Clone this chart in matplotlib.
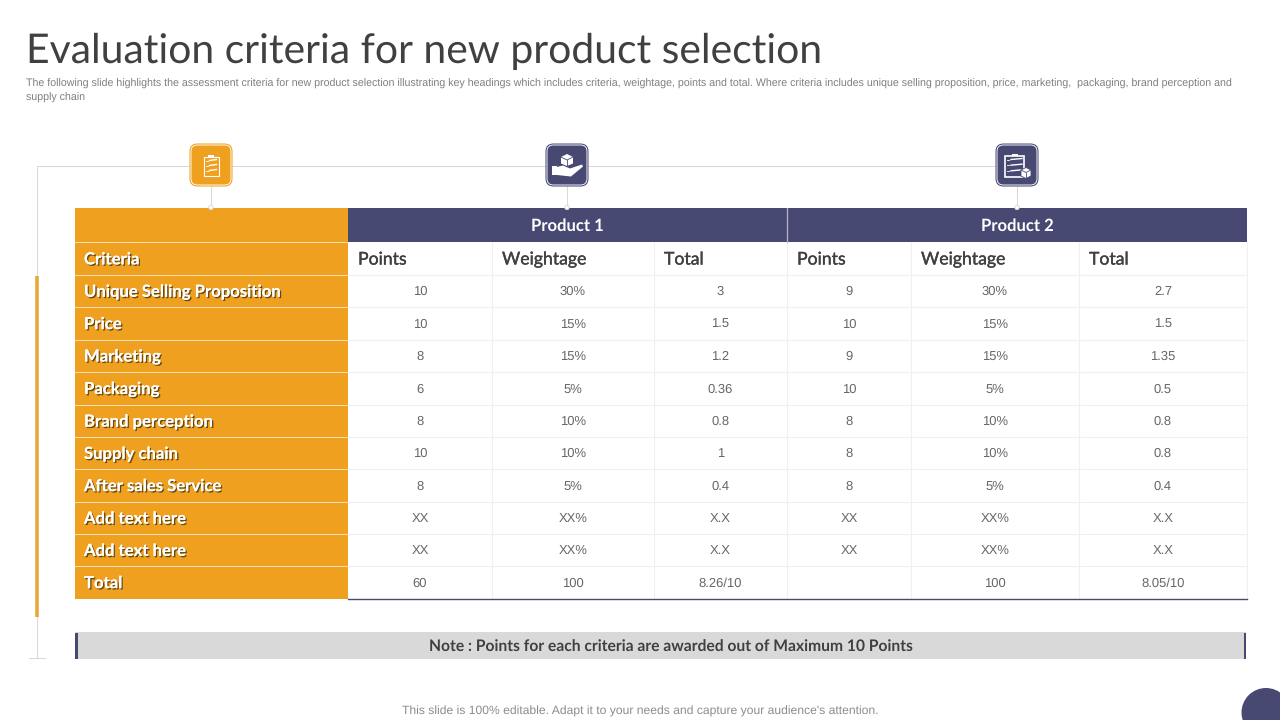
import matplotlib
matplotlib.use('Agg')
import matplotlib.pyplot as plt
import matplotlib.patheffects as pe
from matplotlib.patches import Rectangle, FancyBboxPatch, Circle, Polygon

plt.rcParams['text.hinting'] = 'no_hinting'

ORANGE = '#EFA01F'
NAVY = '#474973'
GRID = '#F0F0F0'
GREY_LINE = '#D9D9D9'
TXT = '#666666'

criteria = ['Criteria', 'Unique Selling Proposition', 'Price', 'Marketing', 'Packaging',
            'Brand perception', 'Supply chain', 'After sales Service', 'Add text here',
            'Add text here', 'Total']
col_heads = ['Points', 'Weightage', 'Total', 'Points', 'Weightage', 'Total']
products = ['Product 1', 'Product 2']

p1_points = ['10', '10', '8', '6', '8', '10', '8', 'XX', 'XX', '60']
p1_weight = ['30%', '15%', '15%', '5%', '10%', '10%', '5%', 'XX%', 'XX%', '100']
p1_total = ['3', '1.5', '1.2', '0.36', '0.8', '1', '0.4', 'X.X', 'X.X', '8.26/10']
p2_points = ['9', '10', '9', '10', '8', '8', '8', 'XX', 'XX', '']
p2_weight = ['30%', '15%', '15%', '5%', '10%', '10%', '5%', 'XX%', 'XX%', '100']
p2_total = ['2.7', '1.5', '1.35', '0.5', '0.8', '0.8', '0.4', 'X.X', 'X.X', '8.05/10']

title = 'Evaluation criteria for new product selection'
subtitle = ('The following slide highlights the assessment criteria for new product selection illustrating key headings which includes criteria, weightage, points and total. Where criteria includes unique selling proposition, price, marketing,  packaging, brand perception and\n'
            'supply chain')
note = 'Note : Points for each criteria are awarded out of Maximum 10 Points'
footer = "This slide is 100% editable. Adapt it to your needs and capture your audience's attention."

# table grid in pixels
col_x = [75, 348, 492, 654, 787, 911, 1079, 1247]
row_y = [208, 242, 275, 307, 339.5, 372, 404.5, 437, 469, 501.5, 534, 566, 598.5]

HEAD_FONT = 'Lato'
BODY_FONT = 'Liberation Sans'

fig = plt.figure(figsize=(12.8, 7.2), dpi=100)
ax = fig.add_axes([0, 0, 1, 1])
ax.set_xlim(0, 1280)
ax.set_ylim(720, 0)
ax.axis('off')

ax.text(26, 51, title, fontsize=29.4, family=HEAD_FONT, color='#404040', va='center')
ax.text(26, 91, subtitle, fontsize=7.7, family=BODY_FONT, color='#7F7F7F', va='center', linespacing=1.45)

# bracket line on the left and top
ax.plot([37, 37, 1017], [658, 166, 166], color=GREY_LINE, lw=0.75, zorder=1)
ax.plot([29, 45], [658, 658], color=GREY_LINE, lw=0.75, zorder=1)
ax.plot([37, 37], [276, 617], color='#E8A93A', lw=2.6, solid_capstyle='butt', zorder=2)

# orange first column
ax.add_patch(Rectangle((col_x[0], row_y[0]), col_x[1]-col_x[0], row_y[-1]-row_y[0], fc=ORANGE, ec='none', zorder=2))
for y in row_y[1:-1]:
    ax.plot([col_x[0], col_x[1]], [y, y], color='#F8DDB0', lw=0.75, zorder=3)

shadow = [pe.withSimplePatchShadow(offset=(1, -1), shadow_rgbFace='#5A4010', alpha=0.9), pe.Normal()]
for i, name in enumerate(criteria):
    yc = (row_y[i+1] + row_y[i+2]) / 2
    ax.text(84, yc+1, name, fontsize=12.0, family=HEAD_FONT, fontweight='bold', color='white',
            va='center', path_effects=shadow, zorder=4)

# navy product header
ax.add_patch(Rectangle((col_x[1], row_y[0]), col_x[-1]-col_x[1], row_y[1]-row_y[0], fc=NAVY, ec='none', zorder=2))
ax.plot([col_x[4], col_x[4]], [row_y[0], row_y[1]], color='#B5B6C9', lw=0.9, zorder=3)
ax.text((col_x[1]+col_x[4])/2, 226, products[0], fontsize=12.0, family=HEAD_FONT, fontweight='bold',
        color='white', ha='center', va='center', zorder=4)
ax.text((col_x[4]+col_x[-1])/2, 226, products[1], fontsize=12.0, family=HEAD_FONT, fontweight='bold',
        color='white', ha='center', va='center', zorder=4)

# cell grid
for y in row_y[2:-1]:
    ax.plot([col_x[1], col_x[-1]], [y, y], color=GRID, lw=0.75, zorder=1)
for x in col_x[2:]:
    ax.plot([x, x], [row_y[1], row_y[-1]], color=GRID, lw=0.75, zorder=1)
ax.plot([col_x[1], col_x[-1]], [row_y[-1], row_y[-1]], color=NAVY, lw=1.0, zorder=3)

semi = [pe.withStroke(linewidth=0.25, foreground='#404040')]
for j, head in enumerate(col_heads):
    ax.text(col_x[j+1]+10, (row_y[1]+row_y[2])/2+1, head, fontsize=12.7, family=HEAD_FONT,
            color='#404040', va='center', path_effects=semi, zorder=4)

columns = [p1_points, p1_weight, p1_total, p2_points, p2_weight, p2_total]
for j, col in enumerate(columns):
    xc = (col_x[j+1] + col_x[j+2]) / 2
    for i, val in enumerate(col):
        yc = (row_y[i+2] + row_y[i+3]) / 2
        ax.text(xc, yc+1, val, fontsize=9.35, family=BODY_FONT, color=TXT, ha='center', va='center', zorder=4)


def icon_box(xc, color):
    ax.plot([xc, xc], [186, 207], color=GREY_LINE, lw=0.75, zorder=1)
    ax.add_patch(Circle((xc, 207.5), 2.2, fc='white', ec=GREY_LINE, lw=0.6, zorder=5))
    ax.add_patch(FancyBboxPatch((xc-21.5, 143.5), 43, 43, boxstyle='round,pad=0,rounding_size=8',
                                fc=color, ec='none', zorder=3))
    ax.add_patch(FancyBboxPatch((xc-20, 145), 40, 40, boxstyle='round,pad=0,rounding_size=6.5',
                                fc=color, ec='white', lw=0.65, zorder=4))


def clipboard(x0, y0, w, h, lw=0.8):
    ax.add_patch(Rectangle((x0, y0), w, h, fc='none', ec='white', lw=lw, zorder=6))
    ax.add_patch(Rectangle((x0+w/2-3, y0-2), 6, 2.5, fc='white', ec='none', zorder=6))
    for k in range(3):
        yy = y0 + 4 + k*(h-4)/3
        ax.plot([x0+2, x0+4], [yy, yy], color='white', lw=0.6, zorder=6)
        ax.plot([x0+6, x0+w-2], [yy, yy-1], color='white', lw=1.0, zorder=6)


# first icon
icon_box(211, ORANGE)
clipboard(203.5, 156.5, 15, 19)

# second icon, hand holding a box
icon_box(567, NAVY)
ax.add_patch(Polygon([[561, 157], [567, 154], [573, 157], [573, 163.5], [567, 166], [561, 163.5]],
                     fc='white', ec='none', zorder=6))
ax.plot([561, 567, 573], [157, 160, 157], color=NAVY, lw=0.6, zorder=7)
ax.plot([567, 567], [160, 166], color=NAVY, lw=0.6, zorder=7)
ax.add_patch(Rectangle((552, 165.5), 4.5, 9.5, fc='white', ec='none', zorder=6))
ax.add_patch(Polygon([[557, 167], [563, 165.5], [570, 168.5], [582, 164.5], [583, 166.5], [571, 176.5], [557, 175]],
                     fc='white', ec='none', zorder=6))

# third icon, checklist and box
icon_box(1017, NAVY)
clipboard(1005, 155.5, 19, 21, lw=1.2)
ax.add_patch(Polygon([[1021, 170], [1026, 167.5], [1031, 170], [1031, 176], [1026, 178.5], [1021, 176]],
                     fc='white', ec=NAVY, lw=0.6, zorder=7))
ax.plot([1021, 1026, 1031], [170, 172.5, 170], color=NAVY, lw=0.6, zorder=8)
ax.plot([1026, 1026], [172.5, 178.5], color=NAVY, lw=0.6, zorder=8)

# note bar
ax.add_patch(Rectangle((75, 632), 1171, 27, fc='#D9D9D9', ec='none', zorder=2))
ax.add_patch(Rectangle((75, 632.5), 3, 26, fc=NAVY, ec='none', zorder=3))
ax.add_patch(Rectangle((1244, 632.5), 2, 26, fc=NAVY, ec='none', zorder=3))
ax.text(671, 647.5, note, fontsize=11.25, family=HEAD_FONT, fontweight='bold', color='#404040',
        ha='center', va='center', zorder=4)

ax.text(640, 711, footer, fontsize=8.7, family=BODY_FONT, color='#8C8C8C', ha='center', va='center')

# corner circle
ax.add_patch(Circle((1266, 712.5), 24.5, fc=NAVY, ec='none', zorder=2))

fig.savefig('out.png', dpi=100)
